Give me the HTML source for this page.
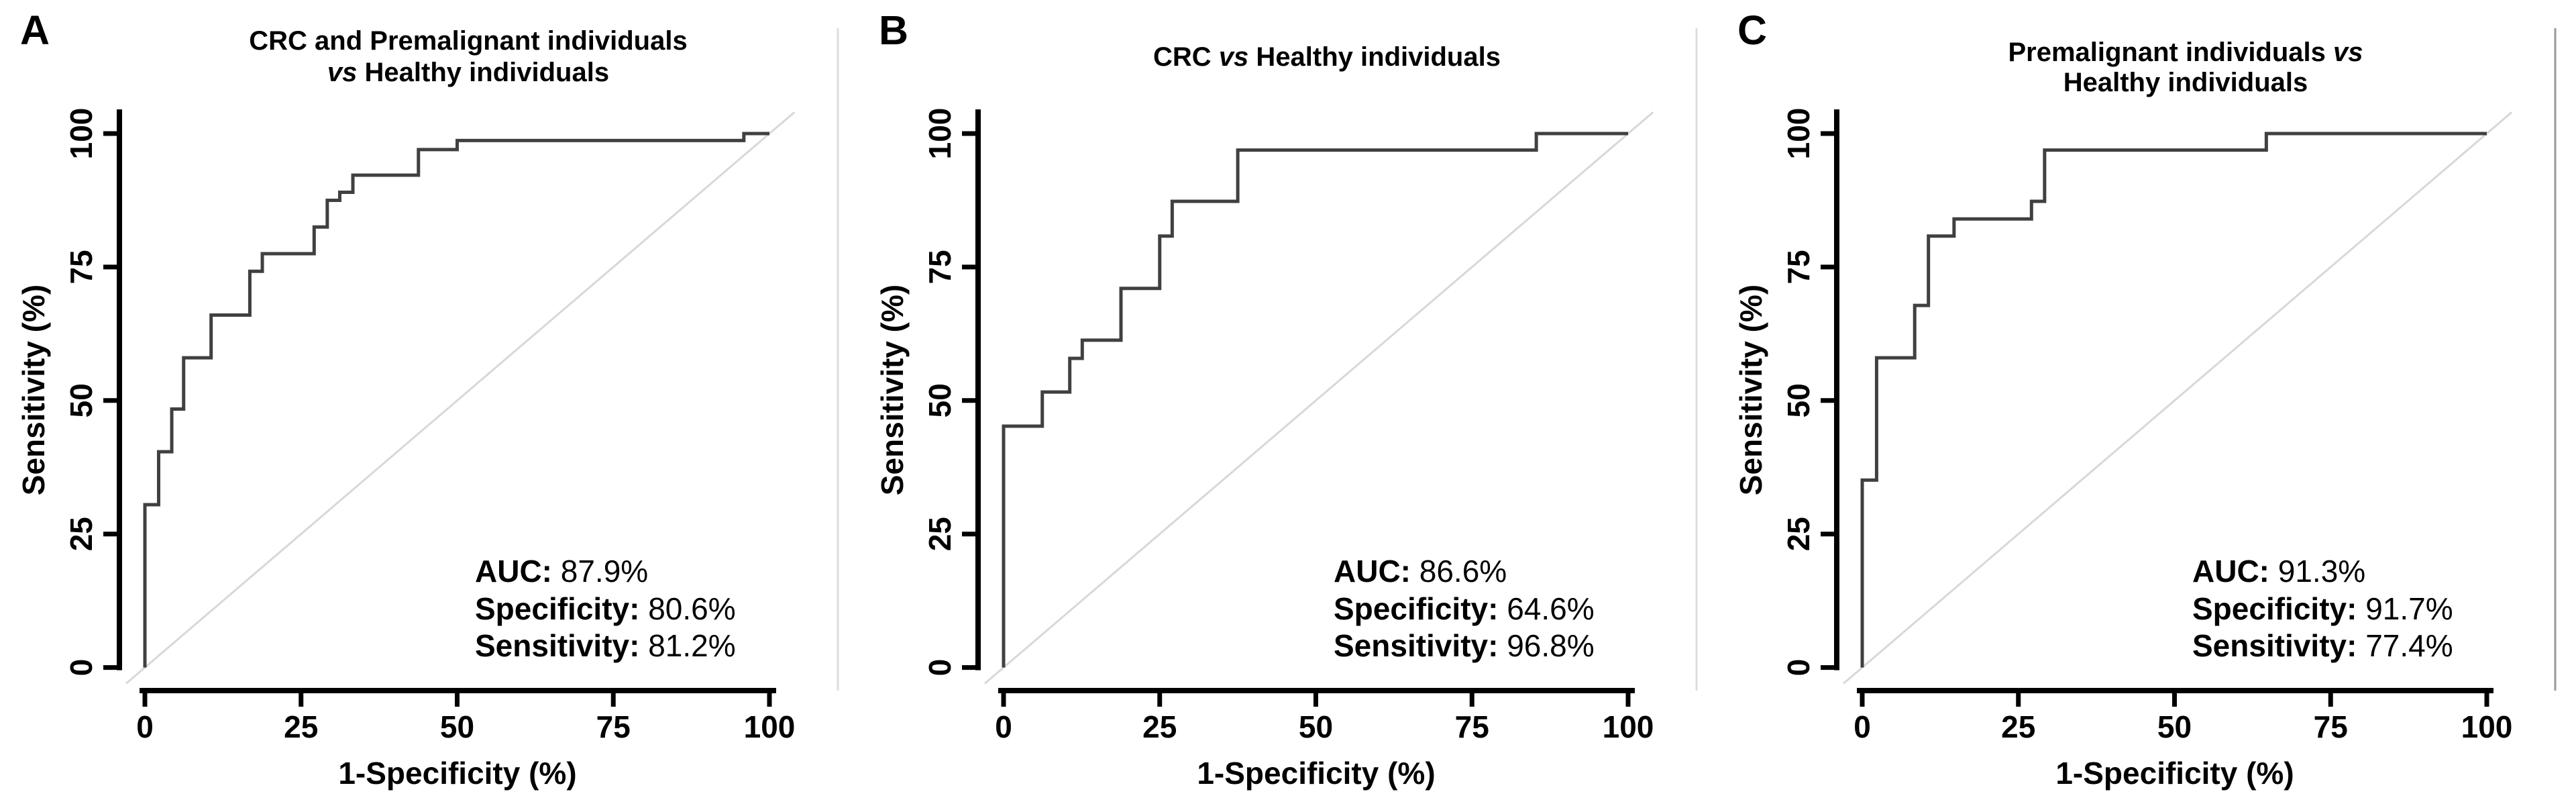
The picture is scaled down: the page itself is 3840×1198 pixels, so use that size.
<!DOCTYPE html>
<html><head><meta charset="utf-8">
<style>
html,body{margin:0;padding:0;background:#fff;}
svg{display:block;font-family:"Liberation Sans",Arial,sans-serif;}
</style></head>
<body>
<svg id="fig" width="3840" height="1198" viewBox="0 0 3840 1198" xmlns="http://www.w3.org/2000/svg"></svg>
<script>
// Panel A data: CRC and Premalignant vs Healthy
const fprA = [0, 2.2, 4.3, 6.2, 10.6, 16.8, 18.8, 27.1, 29.2, 31.2, 33.3, 43.8, 50, 95.9, 100];
const tprA = [30.5, 40.4, 48.4, 58, 66, 74.2, 77.5, 82.5, 87.5, 89, 92.2, 97, 98.7, 100, 100];
// Panel B data: CRC vs Healthy
const fprB = [0, 6.2, 10.6, 12.6, 18.8, 25, 27, 37.5, 85.3, 100];
const tprB = [45.2, 51.6, 57.9, 61.3, 71, 80.8, 87.3, 96.9, 100, 100];
// Panel C data: Premalignant vs Healthy
const fprC = [0, 2.3, 8.4, 10.6, 14.7, 27.1, 29.2, 64.7, 100];
const tprC = [35.1, 58, 67.8, 80.8, 84, 87.3, 96.9, 100, 100];
const ticks = [0, 25, 50, 75, 100];
const tickLabels = ["0", "25", "50", "75", "100"];
const letters = ["A", "B", "C"];
const statsA = ["87.9%", "80.6%", "81.2%"];
const statsB = ["86.6%", "64.6%", "96.8%"];
const statsC = ["91.3%", "91.7%", "77.4%"];
const statNames = ["AUC:", "Specificity:", "Sensitivity:"];

const NS = "http://www.w3.org/2000/svg";
const svg = document.getElementById('fig');
function mk(tag, attrs, parent) {
  const e = document.createElementNS(NS, tag);
  for (const k in attrs) e.setAttribute(k, attrs[k]);
  (parent || svg).appendChild(e);
  return e;
}

const panels = [
  {fpr: fprA, tpr: tprA, stats: statsA, title: [["CRC and Premalignant individuals"], [["vs", true], [" Healthy individuals", false]]], titleY: [74, 121], sepColor: "#dddddd"},
  {fpr: fprB, tpr: tprB, stats: statsB, title: [[["CRC ", false], ["vs", true], [" Healthy individuals", false]]], titleY: [98], sepColor: "#dddddd"},
  {fpr: fprC, tpr: tprC, stats: statsC, title: [[["Premalignant individuals ", false], ["vs", true]], ["Healthy individuals"]], titleY: [91, 136], sepColor: "#999999"}
];

panels.forEach((p, i) => {
  const ox = i * 1280;
  const g = mk('g', {});
  
  
  const X = v => ox + 216 + v * 9.31;
  const Y = v => 994.6 - v * 7.956;

  const L = mk('text', {x: ox + 30, y: 66, 'font-size': 61, 'font-weight': 'bold'}, g);
  L.textContent = letters[i];
  
  

  p.title.forEach((line, li) => {
    const t = mk('text', {x: ox + 698, y: p.titleY[li], 'font-size': 40, 'font-weight': 'bold', 'text-anchor': 'middle'}, g);
    
    
    if (typeof line[0] === 'string') { t.textContent = line[0]; }
    else line.forEach(seg => {
      const s = mk('tspan', seg[1] ? {'font-style': 'italic'} : {}, t);
      s.textContent = seg[0];
    });
  });

  const sep = mk('line', {x1: ox + 1249, y1: 42, x2: ox + 1249, y2: 1029, stroke: p.sepColor, 'stroke-width': 3}, g);
  
  

  const d = mk('line', {x1: X(-3), y1: Y(-3), x2: X(104), y2: Y(104), stroke: '#d8d8d8', 'stroke-width': 3}, g);
  
  

  const ya = mk('line', {x1: ox + 178, y1: 163, x2: ox + 178, y2: Y(0) + 4, stroke: '#000', 'stroke-width': 8}, g);
  
  
  ticks.forEach((t, k) => {
    const tl = mk('line', {x1: ox + 154, y1: Y(t), x2: ox + 178, y2: Y(t), stroke: '#000', 'stroke-width': 7}, g);
    
    
    const lb = mk('text', {x: 0, y: 0, 'font-size': 46, 'font-weight': 'bold', 'text-anchor': 'middle', transform: `translate(${ox + 137},${Y(t)}) rotate(-90)`}, g);
    lb.textContent = tickLabels[k];
    
    
  });
  const yt = mk('text', {x: 0, y: 0, 'font-size': 46, 'font-weight': 'bold', 'text-anchor': 'middle', transform: `translate(${ox + 66},581) rotate(-90)`}, g);
  yt.textContent = 'Sensitivity (%)';
  
  

  const xa = mk('line', {x1: ox + 208, y1: 1029, x2: X(100) + 10, y2: 1029, stroke: '#000', 'stroke-width': 8}, g);
  
  
  ticks.forEach((t, k) => {
    const tl = mk('line', {x1: X(t), y1: 1029, x2: X(t), y2: 1053, stroke: '#000', 'stroke-width': 7}, g);
    
    
    const lb = mk('text', {x: X(t), y: 1099, 'font-size': 46, 'font-weight': 'bold', 'text-anchor': 'middle'}, g);
    lb.textContent = tickLabels[k];
    
    
  });
  const xt = mk('text', {x: ox + 682, y: 1168, 'font-size': 46, 'font-weight': 'bold', 'text-anchor': 'middle'}, g);
  xt.textContent = '1-Specificity (%)';
  
  

  let dstr = `M${X(0)},${Y(0)}`;
  let prevY = 0;
  p.fpr.forEach((f, k) => {
    dstr += ` L${X(f)},${Y(prevY)} L${X(f)},${Y(p.tpr[k])}`;
    prevY = p.tpr[k];
  });
  const c = mk('path', {d: dstr, fill: 'none', stroke: '#404040', 'stroke-width': 5}, g);
  
  

  const sy = [867, 923, 978];
  statNames.forEach((n, k) => {
    const t = mk('text', {x: ox + 708, y: sy[k], 'font-size': 46}, g);
    
    
    const b = mk('tspan', {'font-weight': 'bold'}, t);
    b.textContent = n + ' ';
    const v = mk('tspan', {}, t);
    v.textContent = p.stats[k];
  });
});
</script>
</body></html>
